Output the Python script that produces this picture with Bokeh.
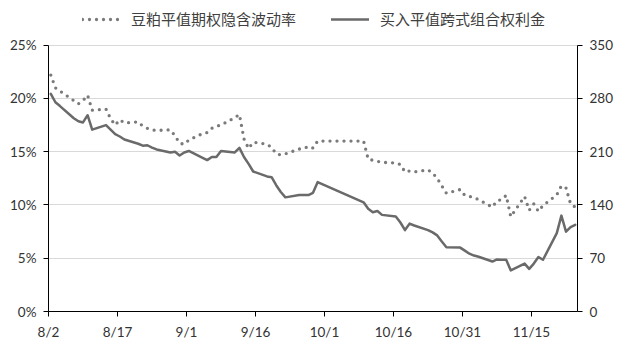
from datetime import date
from bokeh.plotting import figure
from bokeh.models import (Range1d, LinearAxis, FixedTicker, Legend, LegendItem,
                          ColumnDataSource)
from bokeh.embed import file_html
from bokeh.resources import INLINE

# ---- data (2017 trading days) ----
dates = ["8/2", "8/3", "8/4", "8/7", "8/8", "8/9", "8/10", "8/11", "8/14", "8/15", "8/16",
         "8/17", "8/18", "8/21", "8/22", "8/23", "8/24", "8/25", "8/28", "8/29", "8/30", "8/31",
         "9/1", "9/4", "9/5", "9/6", "9/7", "9/8", "9/11", "9/12", "9/13", "9/14", "9/15",
         "9/18", "9/19", "9/20", "9/21", "9/22", "9/25", "9/26", "9/27", "9/28", "9/29",
         "10/9", "10/10", "10/11", "10/12", "10/13", "10/16", "10/17", "10/18", "10/19", "10/20",
         "10/23", "10/24", "10/25", "10/26", "10/27", "10/30", "10/31",
         "11/1", "11/2", "11/3", "11/6", "11/7", "11/8", "11/9", "11/10", "11/13", "11/14",
         "11/15", "11/16", "11/17", "11/20", "11/21", "11/22", "11/23", "11/24"]

# 豆粕平值期权隐含波动率 (%), left axis
iv = [22.2, 21.0, 20.7, 19.8, 19.5, 19.8, 20.3, 18.9, 19.0, 18.1, 17.5,
      18.0, 17.7, 17.8, 17.4, 17.2, 17.05, 17.0, 17.05, 16.5, 15.8, 15.7,
      16.1, 16.7, 16.8, 17.2, 17.4, 17.5, 18.2, 18.5, 16.2, 15.3, 15.9,
      15.7, 15.4, 14.8, 14.7, 14.8, 15.25, 15.3, 15.5, 15.35, 16.0,
      16.0, 14.3, 14.2, 14.1, 14.0, 13.95, 13.8, 13.1, 13.2, 13.1,
      13.3, 13.0, 12.5, 11.8, 11.1, 11.45, 10.9,
      10.8, 10.7, 10.5, 9.8, 10.4, 10.5, 10.9, 8.9, 10.8, 9.5,
      10.1, 9.4, 9.95, 10.95, 11.8, 11.6, 10.1, 9.8]

# 买入平值跨式组合权利金, right axis
premium = [286, 275, 270, 254, 250, 248.5, 258, 239, 245, 239, 233,
           230, 226, 220.5, 218, 218.5, 215.5, 213, 209, 210, 205, 209,
           211, 202, 199, 203, 203, 211, 209, 215, 203, 194, 184,
           177.5, 176.5, 166, 157, 150, 153, 153, 153, 156, 170,
           143.5, 135, 130.5, 132, 127, 125, 117, 107, 115.5, 113,
           107, 104, 100, 92, 84.5, 84, 80,
           76, 73.5, 72, 65.7, 68.5, 68, 68, 54, 63, 56,
           63, 71.5, 68, 103, 126, 105, 111, 114]

x_tick_labels = ["8/2", "8/17", "9/1", "9/16", "10/1", "10/16", "10/31", "11/15"]
left_ticks = [0, 5, 10, 15, 20, 25]
right_ticks = [0, 70, 140, 210, 280, 350]

series_names = ["豆粕平值期权隐含波动率", "买入平值跨式组合权利金"]

# ---- convert dates to day offsets ----
start = date(2017, 8, 2)
def day_of(s):
    m, d = (int(v) for v in s.split("/"))
    return (date(2017, m, d) - start).days

x = [day_of(s) for s in dates]
tick_pos = [day_of(s) - 0.5 for s in x_tick_labels]
last = day_of(dates[-1])

src = ColumnDataSource(dict(x=x, iv=iv, premium=premium))

# layout: frame spans the full height above the x axis; the value axes
# are bounded to their data span so the top strip holds the legend
FRAME_H = 311.0      # px, canvas top -> x axis
AXIS_H = 266.3       # px, 0 -> top tick
stretch = FRAME_H / AXIS_H

p = figure(width=620, height=346, output_backend="svg", toolbar_location=None,
           x_range=Range1d(-0.5, last + 0.5),
           y_range=Range1d(0, left_ticks[-1] * stretch),
           min_border_left=48, min_border_right=43, min_border_top=0,
           min_border_bottom=35)
p.extra_y_ranges = {"r": Range1d(0, right_ticks[-1] * stretch)}
p.outline_line_color = None
p.background_fill_color = "white"
p.border_fill_color = "white"

label_font = "Lato"
label_color = "#404040"

# grid
p.xgrid.visible = False
p.ygrid.ticker = FixedTicker(ticks=left_ticks)
p.ygrid.grid_line_color = "#d9d9d9"
p.ygrid.grid_line_width = 1

# left axis
ly = p.yaxis[0]
ly.ticker = FixedTicker(ticks=left_ticks)
ly.bounds = (left_ticks[0], left_ticks[-1])
ly.major_label_overrides = {t: f"{t}%" for t in left_ticks}

# right axis
ry = LinearAxis(y_range_name="r", ticker=FixedTicker(ticks=right_ticks),
                bounds=(right_ticks[0], right_ticks[-1]))
p.add_layout(ry, "right")

# bottom axis
bx = p.xaxis[0]
bx.ticker = FixedTicker(ticks=tick_pos)
bx.major_label_overrides = {t: lab for t, lab in zip(tick_pos, x_tick_labels)}

for ax in (ly, ry, bx):
    ax.axis_line_color = "black"
    ax.axis_line_width = 1
    ax.major_tick_line_color = "black"
    ax.major_tick_out = 5
    ax.major_tick_in = 0
    ax.minor_tick_out = 0
    ax.minor_tick_in = 0
    ax.major_label_text_font = label_font
    ax.major_label_text_font_size = "13.5px"
    ax.major_label_text_color = "#333333"
    ax.major_label_standoff = 7

# series
r_iv = p.line("x", "iv", source=src, line_color="#7a7a7a", line_width=3.3,
              line_dash="0 7", line_cap="round", line_join="round")
r_pr = p.line("x", "premium", source=src, y_range_name="r", line_color="#6a6a6a",
              line_width=2.5, line_join="round", line_cap="round")

legend = Legend(items=[LegendItem(label=series_names[0], renderers=[r_iv]),
                       LegendItem(label=series_names[1], renderers=[r_pr])],
                orientation="horizontal", location=(34, 282),
                label_text_font="Noto Sans CJK SC", label_text_font_size="15px",
                label_text_color=label_color, glyph_width=38, label_standoff=11,
                spacing=35, padding=4, margin=0, border_line_color=None,
                background_fill_alpha=0)
p.add_layout(legend, "center")

open("out.html", "w").write(file_html(p, INLINE))
